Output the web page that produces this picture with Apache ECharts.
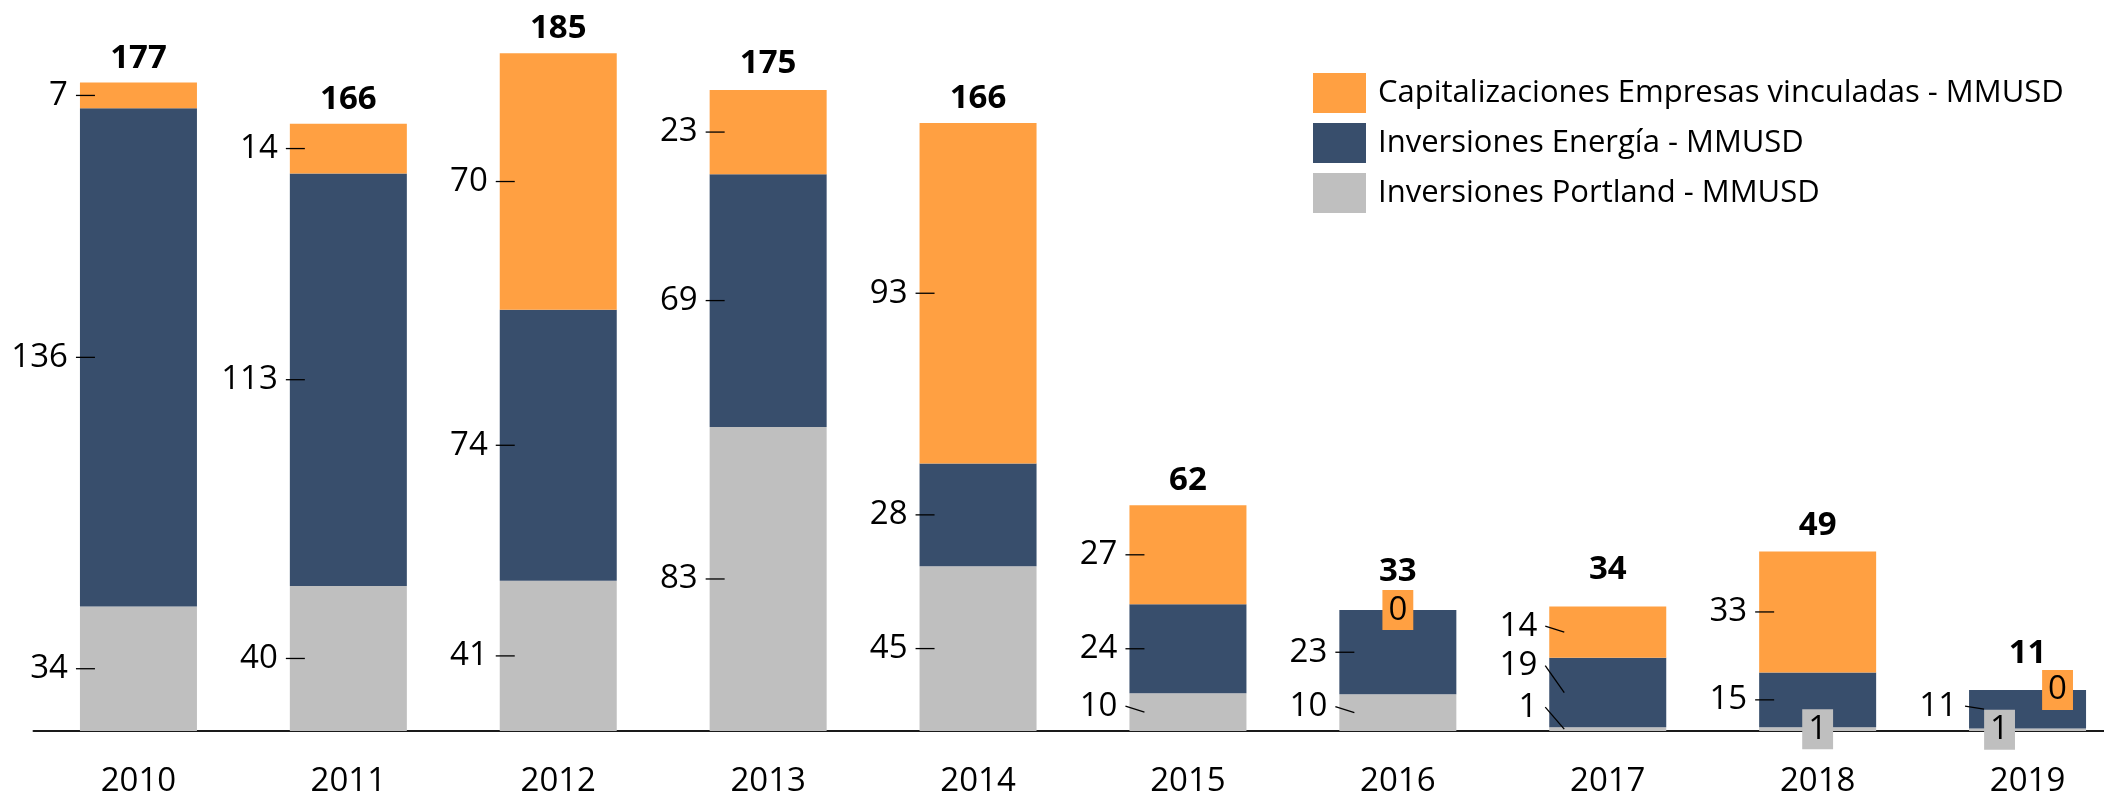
<!DOCTYPE html>
<html><head><meta charset="utf-8">
<script src="https://cdn.jsdelivr.net/npm/echarts@6/dist/echarts.min.js"></script>
<style>html,body{margin:0;padding:0;background:#fff}#c{width:2104px;height:797px}</style>
</head><body><div id="c"></div>
<script>
// ---- data ----
const years = ['2010','2011','2012','2013','2014','2015','2016','2017','2018','2019'];
const portland = [34, 39.6, 41, 83, 45, 10.3, 10, 1, 1, 0.7];
const energia  = [136, 112.6, 74, 69, 28, 24.3, 23, 19, 15, 10.5];
const capital  = [7, 13.6, 70, 23, 93, 27, 0, 14, 33, 0];
const nameCapital  = 'Capitalizaciones Empresas vinculadas - MMUSD';
const nameEnergia  = 'Inversiones Energía - MMUSD';
const namePortland = 'Inversiones Portland - MMUSD';

// ---- style / layout ----
const FONT = '"Open Sans", sans-serif';
const FS = 33;
const BAR_W = 117;
const C_CAP = '#FFA042', C_ENE = '#384E6C', C_POR = '#BFBFBF';
const labelLayout = {
  portland: {5:{dy:-6}, 6:{dy:-6}, 7:{dy:-22}, 8:{box:true, dx:0}, 9:{box:true, dx:-28}},
  energia:  {7:{dy:-27}, 9:{dy:-3}},
  capital:  {6:{box:true, dx:0}, 7:{dy:-6}, 9:{box:true, dx:30}}
};
const totalLift = [24,24,25,26,24,25,39,37,26,36];

const base1 = portland.slice();
const base2 = portland.map((v,i)=>v+energia[i]);
const totals = base2.map((v,i)=>v+capital[i]);

function segData(lo, vals){ return vals.map((v,i)=>[i, lo ? lo[i] : 0, (lo ? lo[i] : 0) + v]); }

function makeSegRender(key, color){
  return function(params, api){
    const i = api.value(0), lo = api.value(1), hi = api.value(2);
    const cfg = (labelLayout[key] || {})[i] || {};
    const c = api.coord([i, (lo+hi)/2]);
    const txt = String(Math.round(hi-lo));
    if (cfg.box){
      return {type:'text', style:{text:txt, x:c[0]+(cfg.dx||0), y:c[1], align:'center', verticalAlign:'middle',
        fontSize:FS, fontFamily:FONT, fill:'#000', backgroundColor:color, padding:[4,6], lineHeight:32}};
    }
    const left = c[0]-BAR_W/2;
    const ty = c[1]+(cfg.dy||0);
    return {type:'group', children:[
      {type:'line', shape:{x1:left-4, y1:ty, x2:left+15, y2:c[1]}, style:{stroke:'#000', lineWidth:1.3}},
      {type:'text', style:{text:txt, x:left-12, y:ty, align:'right', verticalAlign:'middle',
        fontSize:FS, fontFamily:FONT, fill:'#000'}}
    ]};
  };
}

function barSeries(name, vals, color){
  return {type:'bar', name, data:vals, stack:'s', barWidth:BAR_W, itemStyle:{color}, silent:true, z:2};
}
function labelSeries(key, lo, vals, color){
  return {type:'custom', data:segData(lo, vals), renderItem:makeSegRender(key, color), silent:true, clip:false, z:5,
    encode:{x:0, y:2}};
}

const option = {
  animation:false,
  backgroundColor:'#fff',
  grid:{left:33.5, top:35, width:2099, height:696, containLabel:false, outerBoundsMode:'none'},
  legend:{orient:'vertical', left:1308, top:68, itemWidth:53, itemHeight:40, itemGap:10, icon:'rect', selectedMode:false,
    data:[nameCapital, nameEnergia, namePortland],
    textStyle:{fontSize:31, fontFamily:FONT, color:'#000', padding:[0,0,0,7]}},
  xAxis:{type:'category', data:years,
    axisLine:{lineStyle:{color:'#1a1a1a', width:2}}, axisTick:{show:false},
    axisLabel:{fontSize:FS, fontFamily:FONT, color:'#000', margin:34}},
  yAxis:{type:'value', min:0, max:190, show:false, splitLine:{show:false}},
  series:[
    barSeries(namePortland, portland, C_POR),
    barSeries(nameEnergia, energia, C_ENE),
    barSeries(nameCapital, capital, C_CAP),
    labelSeries('portland', null, portland, C_POR),
    labelSeries('energia', base1, energia, C_ENE),
    labelSeries('capital', base2, capital, C_CAP),
    {type:'custom', data:totals.map((t,i)=>[i,t]), silent:true, clip:false, z:6, encode:{x:0,y:1},
      renderItem:function(params, api){
        const i = api.value(0), t = api.value(1);
        const c = api.coord([i, t]);
        return {type:'text', style:{text:String(Math.round(t)), x:c[0], y:c[1]-totalLift[i], align:'center', verticalAlign:'middle',
          fontSize:FS, fontFamily:FONT, fontWeight:'bold', fill:'#000'}};
      }}
  ]
};
const chart = echarts.init(document.getElementById('c'), null, {renderer:'canvas'});
chart.setOption(option);
</script></body></html>
